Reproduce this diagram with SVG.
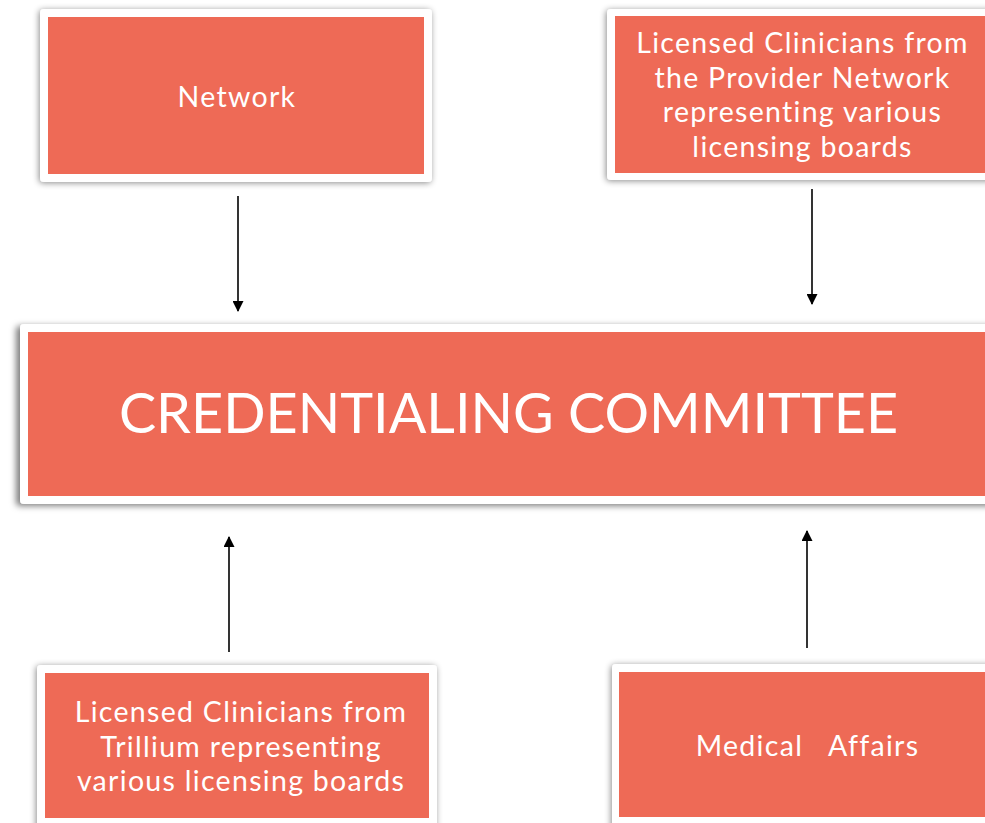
<svg xmlns="http://www.w3.org/2000/svg" width="985" height="823" viewBox="0 0 985 823">
<defs>
<filter id="sh" x="-10%" y="-20%" width="120%" height="140%">
<feDropShadow dx="-1" dy="1" stdDeviation="3" flood-color="#000" flood-opacity="0.45"/>
</filter>
<filter id="shc" x="-10%" y="-20%" width="120%" height="140%">
<feDropShadow dx="-4" dy="2" stdDeviation="3" flood-color="#000" flood-opacity="0.5"/>
</filter>
<marker id="ah" markerWidth="11" markerHeight="11" refX="10" refY="5.5" orient="auto" markerUnits="userSpaceOnUse">
<path d="M0,0 L11,5.5 L0,11 z" fill="#000"/>
</marker>
</defs>
<style>
.outer{fill:#fff}
.inner{fill:#EE6A56}
.t{fill:#fff;font-family:Lato,"Noto Sans",sans-serif;text-anchor:middle;font-variant-ligatures:none}
.s{font-size:28.5px;letter-spacing:1.3px}
.big{font-size:55.7px}
.c{stroke:#000;stroke-width:1.6;fill:none;marker-end:url(#ah)}
</style>
<rect width="985" height="823" fill="#fff"/>
<g id="network">
<rect class="outer" x="40" y="9" width="392" height="173" rx="4" filter="url(#sh)"/>
<rect class="inner" x="48" y="17" width="376" height="157"/>
<text class="t s" x="237" y="106.5">Network</text>
</g>
<g id="provider">
<rect class="outer" x="607" y="9" width="400" height="171" rx="4" filter="url(#sh)"/>
<rect class="inner" x="615" y="16" width="380" height="157"/>
<text class="t s" x="802.5" y="53">Licensed Clinicians from</text>
<text class="t s" x="802.5" y="87.5">the Provider Network</text>
<text class="t s" x="802.5" y="122">representing various</text>
<text class="t s" x="802.5" y="156.5">licensing boards</text>
</g>
<g id="committee">
<rect class="outer" x="20" y="324" width="990" height="180" rx="4" filter="url(#shc)"/>
<rect class="inner" x="28" y="332" width="970" height="164"/>
<text class="t big" x="508.5" y="433">CREDENTIALING COMMITTEE</text>
</g>
<g id="trillium">
<rect class="outer" x="37" y="665" width="400" height="180" rx="4" filter="url(#sh)"/>
<rect class="inner" x="45" y="673" width="384" height="145"/>
<text class="t s" x="241" y="722">Licensed Clinicians from</text>
<text class="t s" x="241" y="756.5">Trillium representing</text>
<text class="t s" x="241" y="790.5">various licensing boards</text>
</g>
<g id="medical">
<rect class="outer" x="612" y="664" width="400" height="180" rx="4" filter="url(#sh)"/>
<rect class="inner" x="619" y="672" width="380" height="145"/>
<text class="t s" x="807.5" y="756" xml:space="preserve">Medical   Affairs</text>
</g>
<g id="connectors">
<line class="c" x1="238" y1="196" x2="238" y2="311"/>
<line class="c" x1="812" y1="189" x2="812" y2="304"/>
<line class="c" x1="229" y1="652" x2="229" y2="537"/>
<line class="c" x1="807" y1="648" x2="807" y2="531"/>
</g>
</svg>
